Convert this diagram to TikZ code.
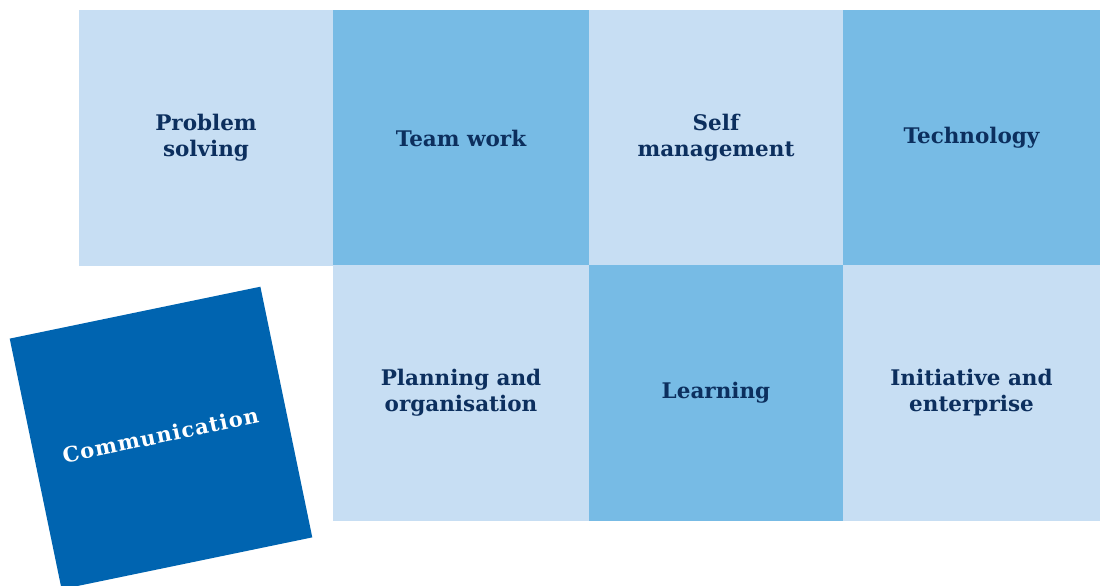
\documentclass[tikz,border=0pt]{standalone}
\usepackage{fontspec}
\newfontfamily\labelfont{DejaVu Serif}
\newfontfamily\spacedfont{DejaVu Serif}[LetterSpace=5]
\definecolor{palecell}{HTML}{C7DEF3}
\definecolor{midcell}{HTML}{77BBE5}
\definecolor{deepcell}{HTML}{0064B0}
\definecolor{navytext}{HTML}{0C2F5E}
\begin{document}
\begin{tikzpicture}[x=1pt,y=1pt,
  cell/.style={minimum width=#1, minimum height=256pt, inner sep=0pt, outer sep=0pt,
    anchor=north west, align=center, text=navytext,
    font=\labelfont\bfseries\fontsize{21.5}{26}\selectfont},
  pale/.style={fill=palecell},
  mid/.style={fill=midcell}]
\useasboundingbox (0,0) rectangle (1100,586);
\clip (0,0) rectangle (1100,586);
% top row
\node[cell=254pt, pale] (problem) at (79,576) {Problem\\solving};
\node[cell=256pt, mid]  (team)    at (333,576) {Team work};
\node[cell=254pt, pale] (self)    at (589,576) {Self\\management};
\node[cell=257pt, mid]  (tech)    at (843,576) {Technology};
% bottom row
\node[cell=256pt, pale] (plan)    at (333,321) {Planning and\\organisation};
\node[cell=254pt, mid]  (learn)   at (589,321) {Learning};
\node[cell=257pt, pale] (init)    at (843,321) {Initiative and\\enterprise};
% tilted square
\node[fill=deepcell, minimum size=256pt, inner sep=0pt, rotate=11.7,
  text=white, font=\spacedfont\bfseries\fontsize{21}{26}\selectfont]
  (comm) at (161,148) {\raisebox{6pt}{Communication}};
\end{tikzpicture}
\end{document}
